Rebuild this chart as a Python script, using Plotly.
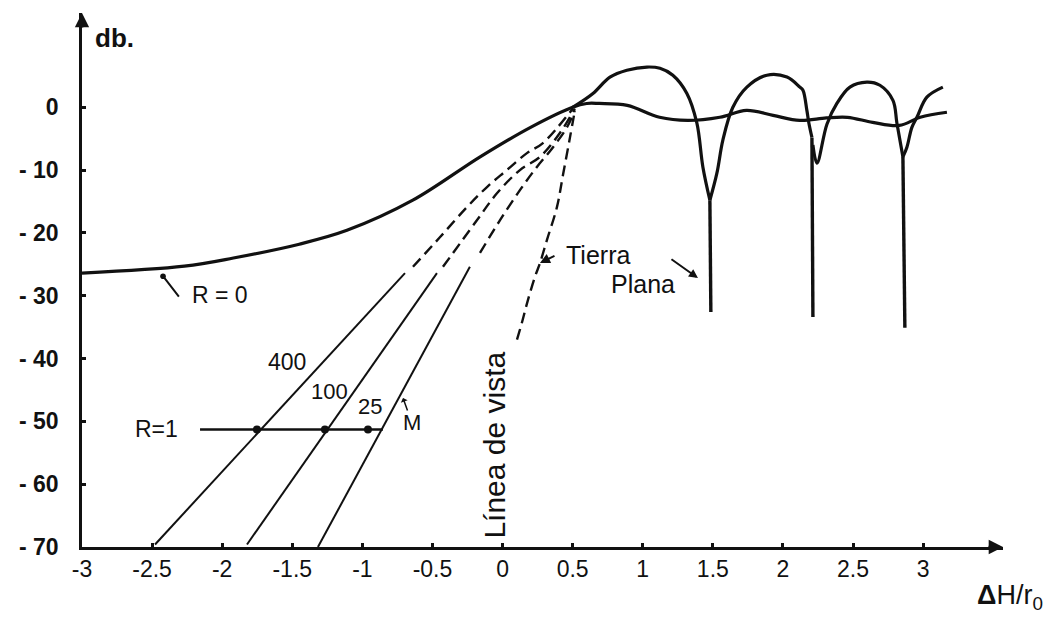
import plotly.graph_objects as go

# ---------------- data ----------------
x_tick_vals = [-3, -2.5, -2, -1.5, -1, -0.5, 0, 0.5, 1, 1.5, 2, 2.5, 3]
x_tick_text = ["-3", "-2.5", "-2", "-1.5", "-1", "-0.5", "0", "0.5", "1", "1.5", "2", "2.5", "3"]
y_tick_vals = [0, -10, -20, -30, -40, -50, -60, -70]
y_tick_text = ["0", "- 10", "- 20", "- 30", "- 40", "- 50", "- 60", "- 70"]

# R = 0 curve
r0_x = [-3.0, -2.27, -1.92, -1.45, -1.11, -0.64, -0.16, 0.20, 0.50, 0.60, 0.69, 0.89,
        1.12, 1.32, 1.55, 1.74, 1.93, 2.12, 2.31, 2.46, 2.64, 2.83, 2.98, 3.17]
r0_y = [-26.4, -25.3, -24.0, -21.8, -19.6, -14.8, -7.9, -3.2, 0.0, 0.6, 0.6, 0.3,
        -1.6, -2.1, -1.6, -0.5, -1.3, -2.1, -1.7, -1.6, -2.4, -2.9, -1.6, -0.8]

# Tierra plana (flat earth) lobes, arc by arc
lobe1_x = [0.50, 0.645, 0.766, 0.887, 1.03, 1.123, 1.215, 1.315, 1.386, 1.429, 1.479]
lobe1_y = [0.0, 2.2, 4.8, 5.9, 6.4, 6.2, 5.1, 2.2, -2.5, -9.5, -14.8]
lobe2_x = [1.479, 1.529, 1.572, 1.643, 1.743, 1.886, 2.029, 2.121, 2.143, 2.171, 2.185, 2.207]
lobe2_y = [-14.8, -10.5, -5.2, 0.0, 3.2, 5.1, 4.8, 3.2, 2.7, -0.5, -2.5, -4.8]
lobe3_x = [2.214, 2.243, 2.314, 2.385, 2.478, 2.599, 2.692, 2.785, 2.813, 2.856]
lobe3_y = [-6.0, -8.9, -2.7, 0.6, 3.2, 4.0, 3.5, 1.1, -2.5, -7.9]
lobe4_x = [2.856, 2.884, 2.920, 2.956, 3.027, 3.141]
lobe4_y = [-7.9, -6.4, -3.2, -1.6, 1.6, 3.2]
null_top_x = [1.479, 2.207, 2.856]
null_top_y = [-14.8, -4.8, -7.9]
null_bot_x = [1.486, 2.214, 2.870]
null_bot_y = [-32.6, -33.4, -35.1]

# diffraction lines (solid part and dashed part) for 400, 100, 25
l400_x = [-2.479, -0.696]
l400_y = [-69.6, -26.4]
l400d_x = [-0.639, -0.447, -0.254, -0.111, 0.031, 0.174, 0.288, 0.502]
l400d_y = [-25.4, -20.7, -15.9, -12.7, -10.0, -7.3, -5.7, -0.2]
l100_x = [-1.823, -0.468]
l100_y = [-69.6, -26.4]
l100d_x = [-0.425, -0.183, -0.040, 0.124, 0.267, 0.409, 0.516]
l100d_y = [-25.4, -18.0, -13.7, -10.0, -7.9, -4.1, -0.2]
l25_x = [-1.317, -0.233]
l25_y = [-70.0, -25.4]
l25d_x = [-0.161, -0.019, 0.124, 0.245, 0.359, 0.459, 0.516]
l25d_y = [-23.2, -18.0, -13.2, -9.5, -6.4, -3.2, -0.5]

# línea de vista (dashed)
lv_x = [0.103, 0.138, 0.181, 0.231, 0.267, 0.317, 0.388, 0.431, 0.481, 0.516]
lv_y = [-37.0, -34.3, -30.7, -27.0, -24.8, -21.1, -15.9, -10.8, -4.8, -0.5]

# R = 1 horizontal line and crossing points
r1_x = [-2.158, -0.853]
r1_db = -51.3
r1_pts_x = [-1.752, -1.267, -0.96]

INK = "#111111"
FONT = "Liberation Sans"

fig = go.Figure()


def add_line(x, y, width, dash="solid", shape="linear"):
    fig.add_trace(go.Scatter(
        x=x, y=y, mode="lines",
        line=dict(color=INK, width=width, dash=dash, shape=shape,
                  smoothing=1.0 if shape == "spline" else None),
        hoverinfo="skip", showlegend=False, cliponaxis=False))


add_line(r0_x, r0_y, 3.2, shape="spline")
for lx, ly in [(lobe1_x, lobe1_y), (lobe2_x, lobe2_y), (lobe3_x, lobe3_y), (lobe4_x, lobe4_y)]:
    add_line(lx, ly, 3.2, shape="spline")
for tx, ty, bx, by in zip(null_top_x, null_top_y, null_bot_x, null_bot_y):
    add_line([tx, bx], [ty, by], 3.4)

for sx, sy, dx, dy in [(l400_x, l400_y, l400d_x, l400d_y),
                       (l100_x, l100_y, l100d_x, l100d_y),
                       (l25_x, l25_y, l25d_x, l25d_y)]:
    add_line(sx, sy, 2.0)
    add_line(dx, dy, 2.4, dash="11px,6px", shape="spline")

add_line(lv_x, lv_y, 2.4, dash="11px,6px", shape="spline")

add_line(r1_x, [r1_db, r1_db], 2.4)
fig.add_trace(go.Scatter(x=r1_pts_x, y=[r1_db] * len(r1_pts_x), mode="markers",
                         marker=dict(color=INK, size=8), hoverinfo="skip",
                         showlegend=False))


def label(text, x, y, size=22, angle=0, weight="normal", xanchor="center"):
    fig.add_annotation(x=x, y=y, text=text, showarrow=False, textangle=angle,
                       xanchor=xanchor, yanchor="middle",
                       font=dict(family=FONT, size=size, color=INK, weight=weight))


def pointer(x, y, ax, ay, head=2, size=1.0, width=2):
    fig.add_annotation(x=x, y=y, ax=ax, ay=ay, text="", showarrow=True,
                       arrowhead=head, arrowsize=size, arrowwidth=width,
                       arrowcolor=INK)


label("db.", -2.92, 11.0, size=26, weight="bold", xanchor="left")
label("R = 0", -2.016, -29.9, size=23)
pointer(-2.422, -26.9, 17, 22, head=6, size=0.7, width=2)
label("R=1", -2.472, -51.2, size=23)
label("400", -1.538, -40.5, size=23)
label("100", -1.238, -45.3, size=22)
label("25", -0.946, -47.7, size=22)
label("M", -0.646, -50.2, size=22)
pointer(-0.71, -46.3, 5, 14, head=1, size=0.8, width=1.5)
label("Tierra", 0.68, -23.5, size=25)
label("Plana", 1.001, -28.1, size=25)
pointer(0.267, -24.8, 16, -8, head=2, size=1.0, width=2)
pointer(1.394, -27.2, -28, -20, head=2, size=0.9, width=2)
label("Línea de vista", -0.054, -53.7, size=30, angle=-90)

# axis arrowheads
pointer(-3, 15, 0, 16, head=2, size=1.1, width=2.6)
pointer(3.57, -70, -16, 0, head=2, size=1.1, width=2.6)

fig.add_annotation(xref="paper", yref="paper", x=1.0076, y=-0.094,
                   text="<b>Δ</b>H/r<sub>0</sub>", showarrow=False,
                   xanchor="center", yanchor="middle",
                   font=dict(family=FONT, size=27, color=INK))

# the page adds an 8px body margin, so the figure margins are shifted by it
fig.update_layout(
    width=1063, height=620,
    margin=dict(l=74, r=68, t=5, b=81),
    paper_bgcolor="white", plot_bgcolor="white",
    showlegend=False,
    xaxis=dict(range=[-3, 3.57], showgrid=False, zeroline=False,
               showline=True, linecolor=INK, linewidth=2.6,
               ticks="inside", ticklen=4, tickwidth=3, tickcolor=INK,
               tickvals=x_tick_vals, ticktext=x_tick_text,
               tickfont=dict(family=FONT, size=23, color=INK),
               ticklabelstandoff=0),
    yaxis=dict(range=[-70, 15], showgrid=False, zeroline=False,
               showline=True, linecolor=INK, linewidth=2.6,
               ticks="inside", ticklen=4, tickwidth=3, tickcolor=INK,
               tickvals=y_tick_vals, ticktext=y_tick_text,
               tickfont=dict(family=FONT, size=23, color=INK, weight="bold"),
               ticklabelstandoff=16),
)

fig.write_html("out.html")
